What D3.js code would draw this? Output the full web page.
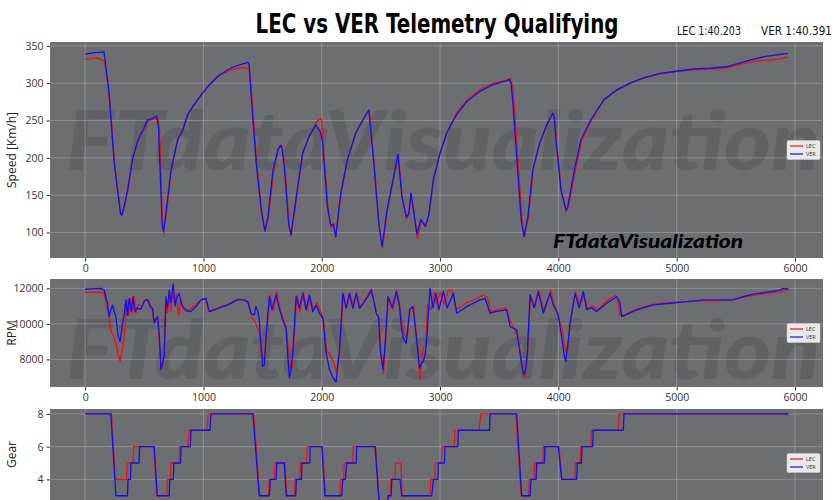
<!DOCTYPE html>
<html><head><meta charset="utf-8">
<script src="https://cdn.jsdelivr.net/npm/d3@7"></script>
<style>
html,body{margin:0;padding:0;background:#fff;overflow:hidden;}
svg{display:block;}
</style></head>
<body><svg id="chart" width="840" height="500"></svg>
<script>
// ---------------- DATA ----------------
const drivers = ["LEC", "VER"];
const lapTimes = ["1:40.203", "1:40.391"];
const xTicks = [0, 1000, 2000, 3000, 4000, 5000, 6000];
const speedTicks = [100, 150, 200, 250, 300, 350];
const rpmTicks = [8000, 10000, 12000];
const gearTicks = [4, 6, 8];

const lecSpeed = [[0,332],[50,333],[100,334],[160,330],[168,325],[205,285],[250,190],[278,152],[300,127],[312,124],[335,136],[365,160],[405,201],[450,225],[490,236],[535,250],[580,252],[615,253],[628,240],[642,170],[655,110],[665,100],[690,130],[730,186],[785,226],[830,240],[870,258],[915,270],[985,286],[1055,299],[1125,310],[1210,316],[1290,320],[1330,321],[1385,319],[1395,310],[1415,270],[1455,185],[1495,126],[1520,104],[1550,120],[1595,185],[1635,212],[1660,217],[1672,210],[1693,180],[1725,108],[1742,96],[1790,150],[1842,208],[1900,231],[1955,248],[1990,253],[2000,250],[2010,222],[2052,133],[2080,106],[2100,112],[2120,95],[2165,154],[2220,199],[2290,235],[2360,255],[2402,264],[2444,190],[2486,108],[2514,79],[2556,131],[2612,177],[2648,204],[2682,145],[2718,118],[2738,125],[2758,150],[2780,125],[2808,92],[2842,115],[2878,110],[2906,124],[2948,175],[3004,210],[3060,235],[3144,261],[3228,278],[3340,292],[3452,300],[3564,304],[3595,306],[3615,295],[3630,265],[3668,175],[3696,112],[3712,94],[3748,122],[3790,186],[3846,221],[3902,245],[3955,259],[3968,253],[3985,220],[4028,152],[4068,128],[4085,135],[4140,180],[4196,222],[4280,250],[4390,279],[4500,292],[4612,301],[4725,307],[4862,312],[5000,316],[5140,318],[5279,319],[5419,320],[5531,325],[5642,329],[5754,331],[5850,332],[5940,335]];

const verSpeed = [[0,339],[80,341],[160,342],[165,335],[200,290],[246,193],[274,157],[300,125],[310,123],[330,135],[359,157],[401,199],[444,222],[470,232],[486,236],[528,251],[570,253],[605,256],[620,240],[636,175],[650,112],[662,101],[684,128],[726,184],[782,224],[825,237],[867,258],[910,269],[980,284],[1051,298],[1121,309],[1206,318],[1291,324],[1376,328],[1385,326],[1404,282],[1446,193],[1489,130],[1520,102],[1545,121],[1588,184],[1630,211],[1653,217],[1665,212],[1686,184],[1720,112],[1740,97],[1785,148],[1838,206],[1894,229],[1950,244],[1990,234],[2006,222],[2048,135],[2076,109],[2098,111],[2118,94],[2160,152],[2216,197],[2286,233],[2356,253],[2398,264],[2440,193],[2482,112],[2510,81],[2552,130],[2608,175],[2644,205],[2678,148],[2714,121],[2734,124],[2754,153],[2776,130],[2804,98],[2838,118],[2874,108],[2902,121],[2944,171],[3000,206],[3056,233],[3140,258],[3224,275],[3336,289],[3448,298],[3560,303],[3583,305],[3600,300],[3616,273],[3658,179],[3686,117],[3709,95],[3742,121],[3784,184],[3840,219],[3896,242],[3952,260],[3965,255],[3980,224],[4022,157],[4064,130],[4078,133],[4134,183],[4190,224],[4274,251],[4385,278],[4497,291],[4609,300],[4721,307],[4860,313],[5000,316],[5140,319],[5279,320],[5419,322],[5531,327],[5642,332],[5754,336],[5850,338],[5940,340]];

const lecRpm = [[0,11770],[133,11780],[161,11700],[189,10800],[217,9660],[240,9300],[260,8920],[280,8300],[296,7890],[315,8600],[330,9290],[355,11350],[370,10500],[385,11400],[400,10600],[415,11500],[430,10600],[450,11100],[480,11000],[515,11400],[540,11300],[565,10900],[580,10200],[600,10300],[615,10100],[628,9000],[640,7600],[650,7500],[665,8300],[680,11200],[695,10600],[710,11800],[725,10700],[740,11700],[755,11200],[770,11700],[790,10500],[810,11400],[830,10800],[860,10700],[900,10900],[940,11100],[990,11400],[1020,11400],[1045,10700],[1120,10900],[1205,11100],[1290,11400],[1340,11350],[1380,11200],[1410,10400],[1450,9900],[1470,9600],[1490,8400],[1505,8000],[1520,8200],[1540,10000],[1565,11600],[1590,10700],[1620,11800],[1645,10900],[1675,10300],[1700,9700],[1722,8400],[1735,7500],[1750,7600],[1760,8500],[1790,11600],[1815,10700],[1845,11800],[1873,10700],[1900,11500],[1930,10800],[1960,11200],[1990,10700],[2015,10200],[2040,8500],[2068,8300],[2095,7900],[2125,7300],[2155,8800],[2183,11700],[2210,10900],[2240,11700],[2268,10900],[2295,11800],[2325,10900],[2360,11300],[2395,11700],[2420,11950],[2445,11200],[2465,10500],[2485,10300],[2500,8600],[2522,7200],[2540,9000],[2565,11500],[2600,10800],[2635,11900],[2665,10800],[2680,10000],[2700,9400],[2720,9100],[2748,10900],[2776,11000],[2805,9100],[2830,6850],[2848,8100],[2860,8700],[2880,8800],[2895,11100],[2925,10800],[2950,11800],[2975,11100],[3000,11800],[3035,11100],[3070,11900],[3100,11900],[3135,10800],[3225,11200],[3300,11400],[3360,11600],[3400,11500],[3430,10700],[3490,10800],[3560,10900],[3590,10200],[3630,9700],[3660,9100],[3680,8400],[3700,7300],[3712,7000],[3728,7500],[3742,8600],[3765,11600],[3800,10900],[3835,11900],[3878,10700],[3935,11900],[3965,11100],[3998,10400],[4030,9800],[4050,8900],[4066,8400],[4085,9100],[4105,10200],[4145,11800],[4180,11000],[4215,11600],[4245,10900],[4285,11000],[4330,10800],[4410,11300],[4480,11600],[4500,11400],[4520,10500],[4560,10500],[4665,10850],[4800,11100],[4944,11200],[5085,11250],[5225,11300],[5366,11300],[5479,11350],[5563,11500],[5648,11600],[5789,11750],[5873,11800],[5944,11950]];

const verRpm = [[0,11950],[80,11980],[133,12000],[161,11900],[189,11160],[203,10410],[217,10790],[231,11065],[245,10700],[260,10410],[280,9290],[296,9000],[316,10040],[330,10500],[344,11350],[358,10500],[372,11440],[390,10700],[405,11530],[420,10700],[440,10900],[470,10800],[500,11300],[528,11350],[555,10900],[570,10880],[584,10040],[600,10300],[612,10410],[625,9500],[635,8360],[641,7420],[655,7800],[669,8170],[683,11530],[697,10900],[711,11900],[725,11200],[735,11800],[745,12250],[760,11000],[775,11500],[795,11720],[810,11200],[824,10970],[860,10750],[895,10690],[940,11000],[980,11350],[1021,11440],[1050,10690],[1120,10850],[1205,11065],[1290,11350],[1340,11350],[1374,11250],[1402,10600],[1430,10500],[1444,10970],[1460,10700],[1472,10220],[1490,8500],[1501,7600],[1515,7700],[1529,9290],[1557,11530],[1580,10800],[1613,11630],[1640,10900],[1670,10220],[1698,9760],[1715,8000],[1726,6950],[1740,7400],[1755,8360],[1783,11530],[1810,10900],[1840,11720],[1868,10800],[1896,11630],[1924,10690],[1952,11065],[1980,10600],[2010,10300],[2037,8360],[2065,7420],[2093,7000],[2121,6720],[2150,8500],[2178,11720],[2206,10900],[2234,11720],[2262,10900],[2291,11720],[2319,10880],[2355,11200],[2390,11530],[2418,11900],[2440,11300],[2460,10600],[2480,10400],[2495,8500],[2517,7420],[2535,8800],[2560,11530],[2595,10900],[2630,11810],[2658,10970],[2672,9850],[2690,9200],[2714,8900],[2743,10790],[2771,10970],[2799,9290],[2827,7500],[2845,7800],[2859,7890],[2875,8300],[2887,9100],[2915,12000],[2940,10900],[2966,11720],[2990,10800],[3028,11810],[3060,10900],[3113,11720],[3141,10600],[3225,10970],[3338,11350],[3380,11440],[3423,10600],[3480,10700],[3563,10790],[3592,9850],[3648,9660],[3676,8360],[3700,7300],[3710,7140],[3725,7500],[3738,8360],[3761,11630],[3795,10900],[3831,11810],[3873,10600],[3930,11720],[3960,11000],[3996,10600],[4028,9290],[4050,8200],[4062,7890],[4080,8800],[4099,10040],[4141,11720],[4175,10900],[4211,11810],[4240,10800],[4280,10900],[4324,10690],[4408,11160],[4493,11530],[4520,11200],[4535,10410],[4662,10790],[4803,11065],[4944,11160],[5085,11250],[5225,11350],[5366,11350],[5479,11350],[5563,11530],[5648,11680],[5789,11810],[5873,11900],[5901,12000],[5944,11950]];

const lecGear = [[0,8],[222,8],[255,4],[350,4],[355,5],[405,5],[410,6],[580,6],[605,3],[690,3],[695,4],[720,4],[725,5],[795,5],[800,6],[870,6],[878,7],[1030,7],[1040,8],[1425,8],[1475,3],[1550,3],[1555,4],[1600,4],[1605,5],[1690,5],[1705,3],[1770,3],[1775,4],[1815,4],[1820,5],[1870,5],[1878,6],[2005,6],[2030,3],[2155,3],[2160,4],[2185,4],[2190,5],[2260,5],[2268,6],[2455,6],[2492,2],[2550,2],[2555,3],[2580,3],[2585,4],[2620,4],[2625,5],[2670,5],[2680,3],[2915,3],[2920,4],[2955,4],[2960,5],[3010,5],[3018,6],[3120,6],[3125,7],[3330,7],[3345,8],[3640,8],[3685,3],[3750,3],[3755,4],[3795,4],[3800,5],[3870,5],[3875,6],[4005,6],[4030,4],[4140,4],[4145,5],[4185,5],[4190,6],[4275,6],[4280,7],[4505,7],[4515,8],[5944,8]];

const verGear = [[0,8],[217,8],[260,3],[358,3],[362,4],[383,4],[387,5],[455,5],[460,6],[584,6],[610,3],[711,3],[715,4],[745,4],[750,5],[807,5],[812,6],[889,6],[895,7],[1055,7],[1065,8],[1418,8],[1472,3],[1557,3],[1565,4],[1615,4],[1621,5],[1683,5],[1700,3],[1780,3],[1785,4],[1828,4],[1833,5],[1898,5],[1903,6],[2001,6],[2028,3],[2169,3],[2178,4],[2200,4],[2211,5],[2291,5],[2296,6],[2451,6],[2490,2],[2555,2],[2563,3],[2587,3],[2592,4],[2662,4],[2676,3],[2930,3],[2944,4],[2981,4],[2986,5],[3037,5],[3042,6],[3150,6],[3155,7],[3418,7],[3423,8],[3648,8],[3690,3],[3761,3],[3770,4],[3812,4],[3817,5],[3882,5],[3887,6],[4000,6],[4028,4],[4155,4],[4160,5],[4195,5],[4200,6],[4290,6],[4295,7],[4549,7],[4555,8],[5944,8]];

// ---------------- LAYOUT ----------------
const svg = d3.select("#chart");
const colors = { LEC: "#ee1111", VER: "#1111ee" };
const bg = "#6c6e72";
const L = 50, R = 823;
const panels = [
  { id: "speed", top: 42, bottom: 258, series: [lecSpeed, verSpeed], ticks: speedTicks, label: "Speed [Km/h]", wm: 170, xAxis: true },
  { id: "rpm", top: 279, bottom: 387, series: [lecRpm, verRpm], ticks: rpmTicks, label: "RPM", wm: 379, xAxis: true },
  { id: "gear", top: 409, bottom: 517, series: [lecGear, verGear], ticks: gearTicks, label: "Gear", wm: null, xAxis: false }
];

function padded(ext) { const p = (ext[1] - ext[0]) * 0.05; return [ext[0] - p, ext[1] + p]; }

const allX = [].concat(lecSpeed, verSpeed).map(d => d[0]);
const x = d3.scaleLinear().domain(padded(d3.extent(allX))).range([L, R]);

const fontTick = "'Open Sans', 'DejaVu Sans', sans-serif";

panels.forEach(p => {
  const vals = [].concat(p.series[0], p.series[1]).map(d => d[1]);
  const y = d3.scaleLinear().domain(padded(d3.extent(vals))).range([p.bottom, p.top]);
  const g = svg.append("g");
  const clipId = "clip-" + p.id;
  svg.append("clipPath").attr("id", clipId).append("rect")
    .attr("x", L).attr("y", p.top).attr("width", R - L).attr("height", p.bottom - p.top);

  g.append("rect").attr("x", L).attr("y", p.top).attr("width", R - L).attr("height", p.bottom - p.top).attr("fill", bg);

  const inner = g.append("g").attr("clip-path", `url(#${clipId})`);

  // watermark
  if (p.wm) {
    inner.append("text").attr("x", 66).attr("y", p.wm)
      .attr("font-family", "Lato, 'DejaVu Sans', sans-serif").attr("font-weight", 900).attr("font-style", "italic")
      .attr("font-size", 82).attr("fill", "#606165").attr("opacity", 0.85)
      .attr("textLength", 754).attr("lengthAdjust", "spacingAndGlyphs")
      .text("FTdataVisualization");
  }

  // grid
  inner.selectAll(".gx").data(xTicks).enter().append("line")
    .attr("x1", d => x(d)).attr("x2", d => x(d)).attr("y1", p.top).attr("y2", p.bottom)
    .attr("stroke", "#c8c8c8").attr("stroke-opacity", 0.45).attr("stroke-width", 0.8);
  inner.selectAll(".gy").data(p.ticks).enter().append("line")
    .attr("x1", L).attr("x2", R).attr("y1", d => y(d)).attr("y2", d => y(d))
    .attr("stroke", "#c8c8c8").attr("stroke-opacity", 0.45).attr("stroke-width", 0.8);

  // lines
  const line = d3.line().x(d => x(d[0])).y(d => y(d[1]));
  p.series.forEach((s, i) => {
    inner.append("path").datum(s).attr("d", line).attr("fill", "none")
      .attr("stroke", colors[drivers[i]]).attr("stroke-width", 1.3).attr("stroke-linejoin", "round");
  });

  if (p.id === "speed") {
    inner.append("text").attr("x", 553).attr("y", 248)
      .attr("font-family", "Lato, 'DejaVu Sans', sans-serif").attr("font-weight", 900).attr("font-style", "italic")
      .attr("font-size", 19).attr("fill", "#000")
      .attr("textLength", 190).attr("lengthAdjust", "spacingAndGlyphs")
      .text("FTdataVisualization");
  }

  // legend
  const cy = (p.top + p.bottom) / 2;
  const lg = g.append("g");
  lg.append("rect").attr("x", 787).attr("y", cy - 9.5).attr("width", 33).attr("height", 19).attr("rx", 1.5)
    .attr("fill", "#ffffff").attr("fill-opacity", 0.85).attr("stroke", "#d0d0d0").attr("stroke-width", 0.5);
  drivers.forEach((dname, i) => {
    const yy = cy - 4 + i * 8;
    lg.append("line").attr("x1", 790).attr("x2", 803).attr("y1", yy).attr("y2", yy)
      .attr("stroke", colors[dname]).attr("stroke-width", 1.2);
    lg.append("text").attr("x", 806).attr("y", yy + 2).attr("font-size", 5.5)
      .attr("font-family", fontTick).attr("fill", "#333").text(dname);
  });

  // axes
  const ya = g.append("g").attr("transform", `translate(${L},0)`)
    .call(d3.axisLeft(y).tickValues(p.ticks).tickFormat(d3.format("d")).tickSize(3.5).tickPadding(3));
  ya.select(".domain").remove();
  ya.selectAll("text").attr("font-family", fontTick).attr("font-size", 10.5).attr("fill", "#333");
  ya.selectAll("line").attr("stroke", "#333");

  if (p.xAxis) {
    const xa = g.append("g").attr("transform", `translate(0,${p.bottom})`)
      .call(d3.axisBottom(x).tickValues(xTicks).tickFormat(d3.format("d")).tickSize(3.5).tickPadding(3.5));
    xa.select(".domain").remove();
    xa.selectAll("text").attr("font-family", fontTick).attr("font-size", 10.5).attr("fill", "#333");
    xa.selectAll("line").attr("stroke", "#333");
  }

  svg.append("text").attr("transform", `translate(16,${(p.top + Math.min(p.bottom, 500)) / 2}) rotate(-90)`)
    .attr("text-anchor", "middle").attr("font-family", fontTick).attr("font-size", 12).attr("fill", "#222")
    .text(p.label);
});

// titles
svg.append("text").attr("x", 437).attr("y", 33).attr("text-anchor", "middle")
  .attr("font-family", "'DejaVu Sans Condensed', 'DejaVu Sans', sans-serif").attr("font-stretch", "condensed")
  .attr("font-weight", "bold").attr("font-size", 27).attr("fill", "#000")
  .attr("textLength", 363).attr("lengthAdjust", "spacingAndGlyphs")
  .text("LEC vs VER Telemetry Qualifying");

[0, 1].forEach(i => {
  svg.append("text").attr("x", i === 0 ? 677 : 761).attr("y", 35)
    .attr("font-family", "'DejaVu Sans Condensed', 'DejaVu Sans', sans-serif").attr("font-stretch", "condensed")
    .attr("font-size", 12).attr("fill", "#111")
    .attr("textLength", i === 0 ? 64 : 71).attr("lengthAdjust", "spacingAndGlyphs")
    .text(`${drivers[i]} ${lapTimes[i]}`);
});
</script>
</body></html>
